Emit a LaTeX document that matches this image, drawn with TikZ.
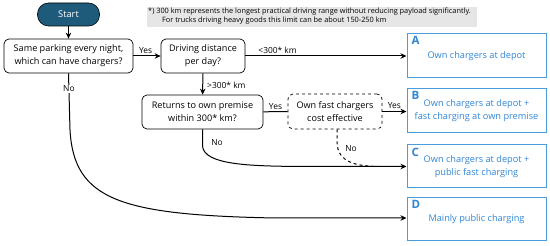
\documentclass[tikz,border=0pt]{standalone}
\usepackage{fontspec}
\setmainfont{Open Sans}
\usetikzlibrary{arrows.meta}
\definecolor{startfill}{HTML}{1E5B7B}
\definecolor{notegray}{HTML}{E6E6E6}
\definecolor{bblue}{HTML}{4A9BE0}
\definecolor{tblue}{HTML}{2F86D4}
\begin{document}
\begin{tikzpicture}[x=1pt,y=-1pt,
  q/.style={draw, rounded corners=5pt, line width=0.7pt, align=center, inner sep=0pt,
    font=\fontsize{9.1}{13}\selectfont},
  res/.style={draw=bblue, line width=1pt, align=center, text=tblue, inner sep=0pt,
    minimum width=139pt, font=\fontsize{9.2}{13}\selectfont},
  letter/.style={text=tblue, font=\fontsize{11.5}{12}\selectfont\bfseries, anchor=north west, inner sep=0pt},
  arr/.style={-{Stealth[length=6pt,width=5.5pt]}, line width=1pt},
  lbl/.style={font=\fontsize{8.4}{10}\selectfont, inner sep=1pt}]
\useasboundingbox (0,0) rectangle (550,246);
% note
\node[fill=notegray, minimum width=330pt, minimum height=20pt, inner sep=0pt] (note) at (312,17) {};
\node[anchor=west, font=\fontsize{7.35}{9}\selectfont, inner sep=0pt, align=left] (noteA) at (148,11.5)
  {*) 300 km represents the longest practical driving range without reducing payload significantly.};
\node[anchor=west, font=\fontsize{7.35}{9}\selectfont, inner sep=0pt, align=left] (noteB) at (162,21)
  {For trucks driving heavy goods this limit can be about 150-250 km};
% nodes
\node[draw, fill=startfill, text=white, rounded corners=11pt, minimum width=62pt, minimum height=23pt,
  inner sep=0pt, line width=0.6pt, font=\fontsize{9.3}{12}\selectfont] (start) at (68.5,14.5) {Start};
\node[q, minimum width=129pt, minimum height=34pt] (q1) at (68.5,56) {Same parking every night,\\which can have chargers?};
\node[q, minimum width=84pt, minimum height=34pt] (q2) at (203,56) {Driving distance\\per day?};
\node[q, minimum width=121pt, minimum height=34pt] (q3) at (202.5,112) {Returns to own premise\\within 300* km?};
\node[q, dashed, minimum width=94pt, minimum height=35pt] (q4) at (335,111.5) {Own fast chargers\\cost effective};
\node[res, minimum height=44pt] (A) at (476.5,56) {Own chargers at depot};
\node[res, minimum height=44pt] (B) at (476.5,111) {Own chargers at depot +\\fast charging at own premise};
\node[res, minimum height=43pt] (C) at (476.5,166.5) {Own chargers at depot +\\public fast charging};
\node[res, minimum height=43pt] (D) at (476.5,219.5) {Mainly public charging};
\node[letter] (LA) at ([xshift=5pt,yshift=-3pt]A.north west) {A};
\node[letter] (LB) at ([xshift=5pt,yshift=-3pt]B.north west) {B};
\node[letter] (LC) at ([xshift=5pt,yshift=-3pt]C.north west) {C};
\node[letter] (LD) at ([xshift=5pt,yshift=-3pt]D.north west) {D};
% connectors
\draw[arr] (start) -- (q1);
\draw[arr] (q1) -- node[lbl, above=1pt, pos=0.45] {Yes} (q2);
\draw[arr] (q2) -- node[lbl, above=1pt, pos=0.2] {<300* km} (A.west);
\draw[arr] (q2) -- node[lbl, right=3pt, pos=0.55] {>300* km} (q3);
\draw[line width=1pt] (q3) -- node[lbl, above=1pt, pos=0.5] {Yes} (q4);
\draw[arr] (q4) -- node[lbl, above=1pt, pos=0.5] {Yes} (B.west |- q4);
\coordinate (c3) at (202.5,146);
\draw[arr] (q3.south) -- (c3) .. controls (204,165) and (250,166) .. (300,166.5) -- (C.west);
\node[lbl] (no3) at (217,143) {No};
\coordinate (c4) at (337,143);
\draw[dashed, line width=1pt] (q4.south -| c4) -- (c4) .. controls (338,162) and (355,166) .. (378,166.5);
\node[lbl] (no4) at (351,149) {No};
\coordinate (c1) at (70,130);
\coordinate (c1b) at (275,218);
\draw[arr] (q1.south) -- node[lbl, fill=white, pos=0.27] {No} (c1)
  .. controls (74,200) and (120,215) .. (c1b) -- (D.west |- c1b);
\end{tikzpicture}
\end{document}
